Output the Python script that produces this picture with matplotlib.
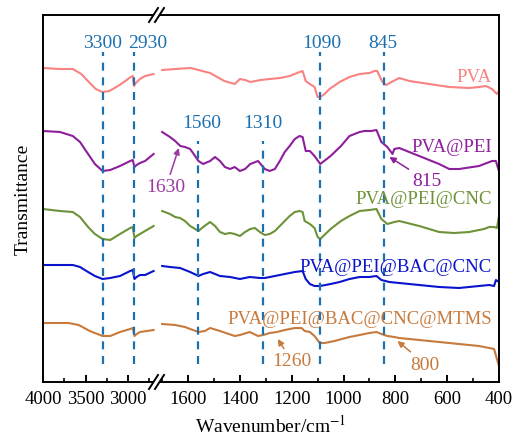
import matplotlib
matplotlib.use('Agg')
import matplotlib.pyplot as plt
from matplotlib.lines import Line2D
from matplotlib.patches import Polygon

plt.rcParams['font.family'] = ['Liberation Serif', 'DejaVu Serif']
plt.rcParams['mathtext.fontset'] = 'stix'
plt.rcParams['font.size'] = 14

# --- spectra (wavenumber / transmittance, offset a.u.) ---
# high wavenumber window
pva_w_hi = [4000, 3800, 3650, 3550, 3450, 3380, 3300, 3220, 3100, 3000, 2970, 2945, 2930, 2910, 2860, 2800, 2700]
pva_t_hi = [331, 330, 330, 325, 316, 310, 307, 308, 314, 320, 322, 323, 313, 316, 320, 323, 325]
pei_w_hi = [4000, 3800, 3650, 3565, 3470, 3390, 3300, 3210, 3095, 2975, 2945, 2925, 2900, 2860, 2800, 2700]
pei_t_hi = [268, 267, 263, 257, 245, 235, 228, 229, 233, 238, 239, 232, 234, 236, 238, 245]
cnc_w_hi = [4000, 3800, 3650, 3565, 3470, 3390, 3300, 3210, 3095, 2975, 2945, 2925, 2900, 2860, 2800, 2700]
cnc_t_hi = [190, 188, 187, 182, 172, 165, 160, 159, 165, 171, 172, 161, 163, 165, 168, 173]
bac_w_hi = [4000, 3800, 3650, 3565, 3470, 3390, 3300, 3210, 3095, 2975, 2945, 2925, 2900, 2860, 2800, 2700]
bac_t_hi = [134, 134, 134, 132, 127, 123, 120, 121, 123, 128, 129, 120, 122, 124, 124, 128]
mtms_w_hi = [4000, 3700, 3580, 3450, 3300, 3210, 3095, 2975, 2945, 2925, 2900, 2860, 2700]
mtms_t_hi = [76, 76, 74, 68, 63, 63, 67, 70, 71, 63, 65, 67, 69]

# low wavenumber window
pva_w_lo = [1700, 1650, 1590, 1515, 1460, 1420, 1400, 1380, 1360, 1320, 1285, 1245, 1208, 1170, 1158, 1146,
            1130, 1112, 1100, 1090, 1073, 1054, 1015, 977, 938, 900, 880, 870, 850, 835, 815, 785, 746,
            670, 592, 515, 477, 450, 427, 408, 400]
pva_t_lo = [329, 330, 331, 326, 318, 315, 320, 319, 317, 319, 320, 321, 323, 327, 328, 318,
            315, 312, 302, 302, 305, 310, 317, 322, 325, 326, 328, 328, 317, 314, 317, 321, 318,
            315, 312, 311, 312, 313, 310, 305, 308]
pei_w_lo = [1700, 1670, 1650, 1630, 1612, 1592, 1573, 1560, 1542, 1515, 1496, 1477, 1458, 1438, 1420, 1400,
            1380, 1360, 1330, 1304, 1285, 1265, 1246, 1227, 1208, 1188, 1170, 1158, 1146, 1130, 1112, 1090,
            1050, 1010, 977, 938, 919, 893, 873, 854, 831, 811, 804, 785, 708, 631, 592, 554, 477, 427,
            412, 405, 400]
pei_t_lo = [267, 262, 258, 253, 252, 250, 243, 238, 235, 238, 242, 238, 232, 230, 232, 228,
            230, 235, 238, 230, 228, 230, 238, 247, 253, 260, 263, 262, 248, 248, 243, 235,
            243, 253, 263, 267, 268, 268, 269, 257, 252, 245, 250, 251, 243, 235, 230, 230, 233, 238,
            238, 232, 228]
cnc_w_lo = [1700, 1670, 1650, 1631, 1612, 1592, 1560, 1542, 1515, 1496, 1477, 1458, 1438, 1420, 1400, 1380,
            1360, 1342, 1323, 1304, 1285, 1265, 1246, 1227, 1208, 1188, 1170, 1158, 1150, 1130, 1112, 1100,
            1090, 1050, 1010, 977, 938, 900, 873, 854, 831, 804, 785, 708, 631, 573, 515, 458, 438,
            419, 408, 400]
cnc_t_lo = [188, 185, 182, 181, 178, 173, 168, 172, 177, 173, 167, 165, 166, 165, 163, 167,
            170, 171, 167, 164, 165, 168, 173, 178, 183, 187, 188, 187, 178, 175, 171, 162,
            160, 170, 178, 183, 188, 189, 190, 180, 175, 177, 178, 173, 167, 166, 167, 170, 172,
            172, 171, 183]
bac_w_lo = [1700, 1670, 1631, 1592, 1560, 1542, 1515, 1477, 1438, 1400, 1362, 1323, 1304, 1265, 1227, 1188,
            1158, 1146, 1130, 1112, 1090, 1050, 1015, 977, 938, 900, 873, 854, 823, 785, 708, 631, 554,
            477, 438, 419, 412, 400]
bac_t_lo = [133, 132, 131, 127, 123, 125, 127, 123, 122, 120, 122, 121, 121, 123, 125, 127,
            128, 120, 115, 113, 113, 115, 117, 120, 122, 122, 123, 119, 117, 116, 114, 112, 111,
            113, 114, 113, 119, 117]
mtms_w_lo = [1700, 1650, 1612, 1592, 1560, 1535, 1515, 1477, 1420, 1400, 1362, 1330, 1310, 1285, 1257, 1227,
             1188, 1162, 1150, 1130, 1112, 1092, 1073, 1035, 977, 938, 900, 873, 854, 831, 804, 785, 708,
             631, 554, 477, 438, 419, 408, 400]
mtms_t_lo = [75, 74, 72, 70, 67, 68, 71, 68, 63, 64, 67, 63, 64, 66, 67, 69,
             71, 71, 68, 67, 63, 56, 56, 58, 62, 64, 66, 67, 65, 63, 62, 61, 59,
             57, 55, 53, 51, 50, 40, 33]

names = ['PVA', 'PVA@PEI', 'PVA@PEI@CNC', 'PVA@PEI@BAC@CNC', 'PVA@PEI@BAC@CNC@MTMS']
colors = ['#FA8282', '#8E1F9C', '#6E9237', '#0A14CC', '#C77A3C']
label_t = [323, 253, 200, 133, 80]

peaks = [3300, 2930, 1560, 1310, 1090, 845]

fig = plt.figure(figsize=(5.18, 4.39), dpi=100)
W, H = 518.0, 439.0


def fx(px):
    return px / W


def fy(py):
    return 1 - py / H


ax1 = fig.add_axes([fx(43), fy(383), fx(157) - fx(43), fy(16) - fy(383)])
ax2 = fig.add_axes([fx(157), fy(383), fx(499) - fx(157), fy(16) - fy(383)], sharey=ax1)
ax1.patch.set_alpha(0)
ax2.patch.set_alpha(0)

hi = [(pva_w_hi, pva_t_hi), (pei_w_hi, pei_t_hi), (cnc_w_hi, cnc_t_hi), (bac_w_hi, bac_t_hi), (mtms_w_hi, mtms_t_hi)]
lo = [(pva_w_lo, pva_t_lo), (pei_w_lo, pei_t_lo), (cnc_w_lo, cnc_t_lo), (bac_w_lo, bac_t_lo), (mtms_w_lo, mtms_t_lo)]
for (wh, th), (wl, tl), c in zip(hi, lo, colors):
    ax1.plot(wh, th, color=c, lw=1.5)
    ax2.plot(wl, tl, color=c, lw=1.5)

dash_c = '#1C70B0'
dash = (0, (3.6, 3.0))
for w in peaks:
    ax = ax1 if w > 2000 else ax2
    top = 258 if w in (1560, 1310) else 347
    ax.plot([w, w], [35, top], color=dash_c, lw=1.6, ls=dash, zorder=3)

ax1.text(3300, 357, '3300', color=dash_c, ha='center', va='center')
ax1.text(2765, 357, '2930', color=dash_c, ha='center', va='center', clip_on=False, zorder=5)
ax2.text(1546, 277, '1560', color=dash_c, ha='center', va='center')
ax2.text(1312, 277, '1310', color=dash_c, ha='center', va='center')
ax2.text(1085, 357, '1090', color=dash_c, ha='center', va='center')
ax2.text(850, 357, '845', color=dash_c, ha='center', va='center')

for n, c, t in zip(names, colors, label_t):
    ax2.text(427, t, n, color=c, ha='right', va='center', fontsize=13.5)

arr = dict(arrowstyle='-|>', lw=1.1, mutation_scale=9, shrinkA=1, shrinkB=0)
ax2.annotate('1630', xy=(1636, 251), xytext=(1685, 212), color='#9B3AA2', ha='center', va='center',
             arrowprops=dict(color='#9B3AA2', **arr), annotation_clip=False)
ax2.annotate('815', xy=(823, 242), xytext=(677, 218), color='#8E1F9C', ha='center', va='center',
             arrowprops=dict(color='#8E1F9C', **arr))
ax2.annotate('1260', xy=(1254, 60), xytext=(1200, 38), color='#C77A3C', ha='center', va='center',
             arrowprops=dict(color='#C77A3C', **arr))
ax2.annotate('800', xy=(792, 58), xytext=(685, 35), color='#C77A3C', ha='center', va='center',
             arrowprops=dict(color='#C77A3C', **arr))

ax1.set_xlim(4000, 2660)
ax2.set_xlim(1720, 400)
ax1.set_ylim(17, 384)
ax1.set_xticks([4000, 3500, 3000])
ax1.set_xticks([3750, 3250, 2750], minor=True)
ax2.set_xticks([1600, 1400, 1200, 1000, 800, 600, 400])
ax2.set_xticks([1700, 1500, 1300, 1100, 900, 700, 500], minor=True)
for ax in (ax1, ax2):
    ax.tick_params(axis='x', which='major', direction='in', length=5, width=1.4, pad=6, labelsize=13.5)
    ax.tick_params(axis='x', which='minor', direction='in', length=3, width=1.2)
    for s in ax.spines.values():
        s.set_linewidth(1.4)
ax1.set_yticks([])
ax2.tick_params(axis='y', left=False, labelleft=False)
ax1.spines['right'].set_visible(False)
ax2.spines['left'].set_visible(False)

ax1.set_ylabel('Transmittance', fontsize=14, labelpad=8)
fig.text(fx(271), fy(426), 'Wavenumber/cm$^{-1}$', ha='center', va='center', fontsize=14)

# axis break marks
for yb in (16, 383):
    pts = [(fx(149), fy(yb + 7)), (fx(155), fy(yb + 7)), (fx(164), fy(yb - 7)), (fx(158), fy(yb - 7))]
    fig.add_artist(Polygon(pts, closed=True, facecolor='white', edgecolor='none',
                           transform=fig.transFigure, zorder=10))
    for x0 in (149, 155):
        fig.add_artist(Line2D([fx(x0), fx(x0 + 9)], [fy(yb + 7), fy(yb - 7)], color='black', lw=1.4,
                              transform=fig.transFigure, zorder=11))

fig.savefig('out.png', dpi=100)
